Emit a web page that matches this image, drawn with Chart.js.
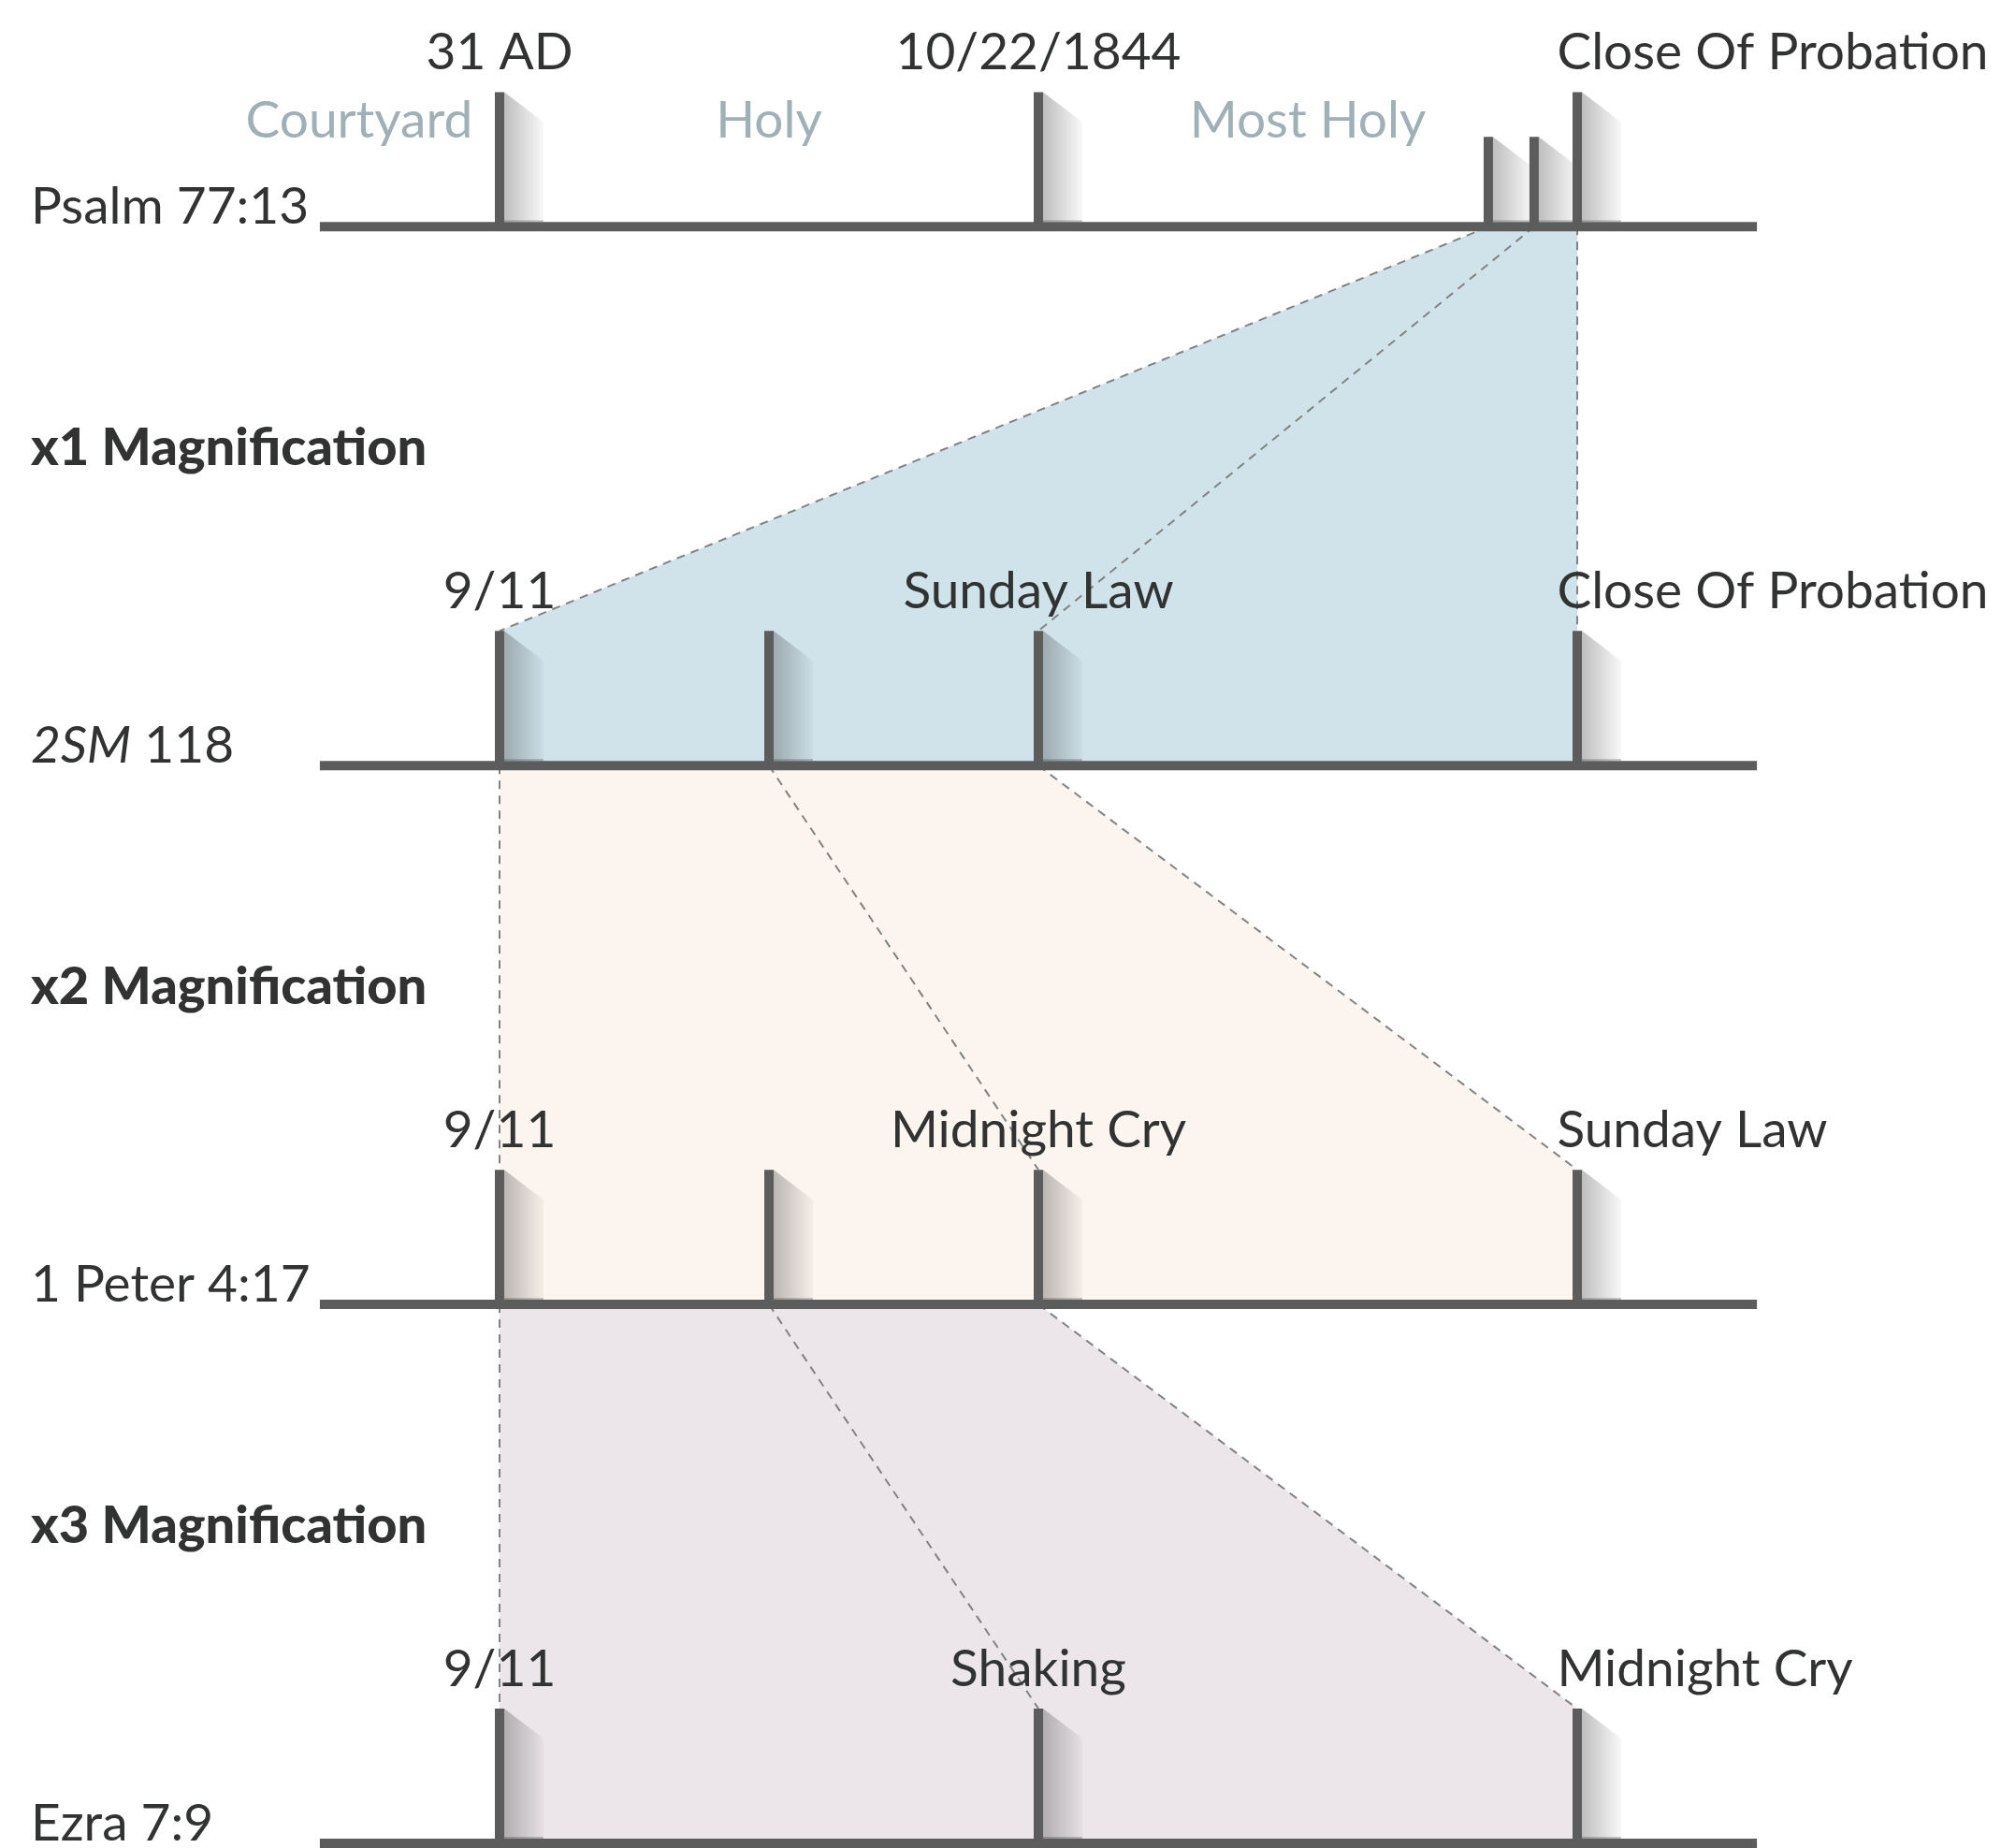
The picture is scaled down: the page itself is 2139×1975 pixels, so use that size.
<!DOCTYPE html>
<html>
<head>
<meta charset="utf-8">
<script src="https://cdn.jsdelivr.net/npm/chart.js"></script>
<style>
  html, body { margin: 0; padding: 0; background: #fff; }
  canvas { display: block; }
</style>
</head>
<body>
<canvas id="timelineChart" width="2139" height="1975"></canvas>
<script>
// rows from top to bottom (y = row index)
var rowNames = ['Psalm 77:13', '2SM 118', '1 Peter 4:17', 'Ezra 7:9'];
var rowItalic = ['', '2SM', '', ''];   // leading part of the name set in italic
var magnifications = ['x1 Magnification', 'x2 Magnification', 'x3 Magnification'];

// every timeline runs over the same stretch of the x scale
var lineStart = 0.333;
var lineEnd = 5.667;
var tickHeight = 0.25;
var smallTickHeight = 0.167;

var row0Ticks = [1, 3, 4.67, 4.84, 5];
var row0Small = [false, false, true, true, false];
var row0Labels = ['31 AD', '10/22/1844', '', '', 'Close Of Probation'];

var row1Ticks = [1, 2, 3, 5];
var row1Labels = ['9/11', '', 'Sunday Law', 'Close Of Probation'];

var row2Ticks = [1, 2, 3, 5];
var row2Labels = ['9/11', '', 'Midnight Cry', 'Sunday Law'];

var row3Ticks = [1, 3, 5];
var row3Labels = ['9/11', 'Shaking', 'Midnight Cry'];

var sectionLabels = ['Courtyard', 'Holy', 'Most Holy'];
var sectionPos = [0.9, 2, 4];
var sectionAlign = ['right', 'center', 'center'];

// which points of the upper row open out onto which points of the lower row
var zoomFrom = [[4.67, 4.84, 5], [1, 2, 3], [1, 2, 3]];
var zoomTo = [[1, 3, 5], [1, 3, 5], [1, 3, 5]];
var zoomColors = ['#d0e3eb', '#fcf4ef', '#ece6ea'];

var lastLabelX = 4.925;  // the label of the last event sits left-aligned here

var rowTicks = [row0Ticks, row1Ticks, row2Ticks, row3Ticks];
var rowLabels = [row0Labels, row1Labels, row2Labels, row3Labels];

var inkColor = '#5c5c5c';
var textColor = '#313333';
var fontFace = 'Lato, "Open Sans", sans-serif';
var fontSize = 55;

function tickLength(row, i) {
    if (row === 0 && row0Small[i]) return smallTickHeight;
    return tickHeight;
}

// timelines
var timelineData = [];
rowNames.forEach(function(name, r) {
    timelineData.push({x: lineStart, y: r}, {x: lineEnd, y: r}, {x: lineEnd, y: null});
});

// ticks
var tickData = [];
rowTicks.forEach(function(ticks, r) {
    ticks.forEach(function(x, i) {
        tickData.push({x: x, y: r}, {x: x, y: r - tickLength(r, i)}, {x: x, y: null});
    });
});

// dashed connectors
var dashData = [];
zoomFrom.forEach(function(from, r) {
    from.forEach(function(x, i) {
        dashData.push({x: x, y: r}, {x: zoomTo[r][i], y: r + 1 - tickHeight}, {x: x, y: null});
    });
});

var datasets = [
    { data: tickData, borderColor: inkColor, borderWidth: 10, borderCapStyle: 'butt' },
    { data: timelineData, borderColor: inkColor, borderWidth: 10, borderCapStyle: 'butt' },
    { data: dashData, borderColor: '#828282', borderWidth: 2, borderDash: [9, 7] }
];

// shaded zoom areas
zoomFrom.forEach(function(from, r) {
    var to = zoomTo[r];
    var first = to[0], last = to[to.length - 1];
    datasets.push({
        data: [
            {x: from[0], y: r},
            {x: from[from.length - 1], y: r},
            {x: last, y: r + 1 - tickHeight},
            {x: last, y: r + 1},
            {x: first, y: r + 1},
            {x: first, y: r + 1 - tickHeight},
            {x: from[0], y: r}
        ],
        borderWidth: 0,
        borderColor: 'rgba(0,0,0,0)',
        backgroundColor: zoomColors[r],
        fill: 'shape'
    });
});

datasets.forEach(function(ds) {
    ds.showLine = true;
    ds.pointRadius = 0;
    ds.pointHoverRadius = 0;
    ds.spanGaps = false;
    ds.tension = 0;
    ds.clip = false;
});

// soft shadow on the right of each tick
var tickShadows = {
    id: 'tickShadows',
    beforeDatasetDraw: function(chart, args) {
        if (args.index !== 1) return;
        var ctx = chart.ctx;
        var xs = chart.scales.x, ys = chart.scales.y;
        ctx.save();
        rowTicks.forEach(function(ticks, r) {
            ticks.forEach(function(x, i) {
                var left = xs.getPixelForValue(x) + 5;
                var top = ys.getPixelForValue(r - tickLength(r, i));
                var bottom = ys.getPixelForValue(r) - 5;
                var w = 42;
                var g = ctx.createLinearGradient(left, 0, left + w, 0);
                g.addColorStop(0, 'rgba(40,40,40,0.30)');
                g.addColorStop(1, 'rgba(40,40,40,0.03)');
                ctx.fillStyle = g;
                ctx.beginPath();
                ctx.moveTo(left, top);
                ctx.lineTo(left + w, top + 32);
                ctx.lineTo(left + w, bottom);
                ctx.lineTo(left, bottom);
                ctx.closePath();
                ctx.fill();
                ctx.fillStyle = 'rgba(40,40,40,0.25)';
                ctx.fillRect(left, bottom - 2, w, 2);
            });
        });
        ctx.restore();
    }
};

// all the texts
var timelineText = {
    id: 'timelineText',
    afterDatasetsDraw: function(chart) {
        var ctx = chart.ctx;
        var xs = chart.scales.x, ys = chart.scales.y;
        ctx.save();
        ctx.textBaseline = 'alphabetic';

        // event labels
        ctx.font = fontSize + 'px ' + fontFace;
        ctx.fillStyle = textColor;
        rowLabels.forEach(function(labels, r) {
            labels.forEach(function(label, i) {
                if (!label) return;
                var y = ys.getPixelForValue(r - tickHeight) - 24;
                if (i === labels.length - 1) {
                    ctx.textAlign = 'left';
                    ctx.fillText(label, xs.getPixelForValue(lastLabelX), y);
                } else {
                    ctx.textAlign = 'center';
                    ctx.fillText(label, xs.getPixelForValue(rowTicks[r][i]), y);
                }
            });
        });

        // sanctuary sections
        ctx.fillStyle = '#9fb0b7';
        sectionLabels.forEach(function(label, i) {
            ctx.textAlign = sectionAlign[i];
            ctx.fillText(label, xs.getPixelForValue(sectionPos[i]), ys.getPixelForValue(-0.165));
        });

        // row names
        ctx.fillStyle = textColor;
        ctx.textAlign = 'left';
        rowNames.forEach(function(name, r) {
            var y = ys.getPixelForValue(r) - 3;
            var x = 33;
            var it = rowItalic[r];
            if (it) {
                ctx.font = 'italic ' + fontSize + 'px ' + fontFace;
                ctx.fillText(it, x, y);
                x += ctx.measureText(it).width;
            }
            ctx.font = fontSize + 'px ' + fontFace;
            ctx.fillText(name.slice(it.length), x, y);
        });

        // magnification headings
        ctx.font = '900 56px ' + fontFace;
        magnifications.forEach(function(text, r) {
            ctx.fillText(text, 33, ys.getPixelForValue(r + 0.443));
        });
        ctx.restore();
    }
};

var ctx = document.getElementById('timelineChart').getContext('2d');
var timelineChart = new Chart(ctx, {
    type: 'scatter',
    data: { datasets: datasets },
    options: {
        responsive: false,
        animation: false,
        devicePixelRatio: 1,
        layout: { padding: { left: 246, right: 165, top: 12, bottom: 5 } },
        scales: {
            x: { type: 'linear', min: 0, max: 6, display: false },
            y: { type: 'linear', min: -0.4, max: 3, reverse: true, display: false }
        },
        plugins: {
            legend: { display: false },
            tooltip: { enabled: false }
        },
        events: []
    },
    plugins: [tickShadows, timelineText]
});
</script>
</body>
</html>
